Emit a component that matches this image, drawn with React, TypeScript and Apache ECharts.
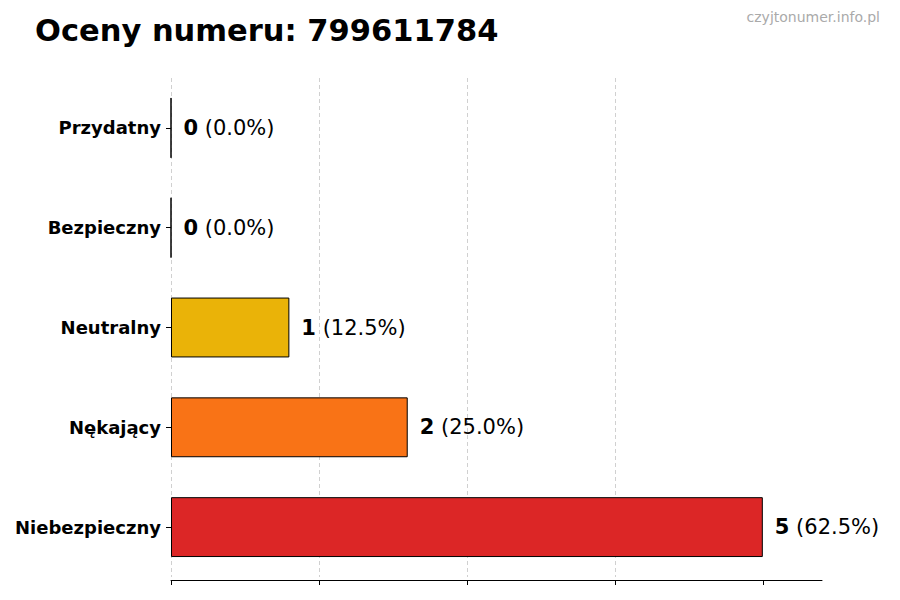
import React, { useEffect, useRef } from "react";
import * as echarts from "echarts";

const categories = ["Przydatny", "Bezpieczny", "Neutralny", "Nękający", "Niebezpieczny"];
const values = [0, 0, 1, 2, 5];
const colors = ["#9ca3af", "#16a34a", "#eab308", "#f97316", "#dc2626"];
const xTicks = [0, 1.25, 2.5, 3.75, 5];
const titleText = "Oceny numeru: 799611784";
const watermark = "czyjtonumer.info.pl";

export default function App() {
  const ref = useRef<HTMLDivElement>(null);
  useEffect(() => {
    document.body.style.margin = "0";
    const chart = echarts.init(ref.current!, null, { renderer: "svg" });
    const total = values.reduce((a, b) => a + b, 0);
    const font = "DejaVu Sans";
    chart.setOption({
      animation: false,
      textStyle: { fontFamily: font },
      title: {
        text: titleText,
        left: 30,
        top: 10,
        textStyle: { fontSize: 30.5, fontWeight: "bold", color: "#000", fontFamily: font },
      },
      graphic: [
        {
          type: "text",
          right: 20,
          top: 10,
          style: { text: watermark, fill: "#aaaaaa", font: `14px "${font}"` },
        },
      ],
      grid: { left: 171, right: 78, top: 78, bottom: 23, containLabel: false },
      xAxis: {
        type: "value",
        min: 0,
        max: 5.5,
        interval: 1.25,
        offset: 3,
        axisLine: { show: true, lineStyle: { color: "#000", width: 1 } },
        axisTick: { show: true, length: 5, customValues: xTicks, lineStyle: { color: "#000" } },
        axisLabel: { show: false },
        splitLine: {
          show: true,
          showMaxLine: false,
          lineStyle: { color: "#d0d0d0", type: [4, 3], width: 1 },
        },
      },
      yAxis: {
        type: "category",
        data: categories,
        inverse: true,
        axisLine: { show: false },
        axisTick: { show: true, length: 5, alignWithLabel: true, lineStyle: { color: "#000" } },
        axisLabel: { fontSize: 18, fontWeight: "bold", color: "#000", margin: 10, fontFamily: font },
        splitLine: { show: false },
      },
      series: [
        {
          type: "bar",
          barCategoryGap: "40%",
          data: values.map((v, i) => ({
            value: v,
            itemStyle: { color: colors[i], borderColor: "#000", borderWidth: 1 },
          })),
          label: {
            show: true,
            position: "right",
            distance: 12,
            formatter: (p: any) => {
              const pct = total ? ((p.value / total) * 100).toFixed(1) : "0.0";
              return `{b|${p.value}}{n| (${pct}%)}`;
            },
            rich: {
              b: { fontSize: 21, fontWeight: "bold", color: "#000", fontFamily: font },
              n: { fontSize: 21, color: "#000", fontFamily: font },
            },
          },
        },
      ],
    });
    return () => chart.dispose();
  }, []);
  return <div ref={ref} style={{ width: 900, height: 600 }} />;
}
